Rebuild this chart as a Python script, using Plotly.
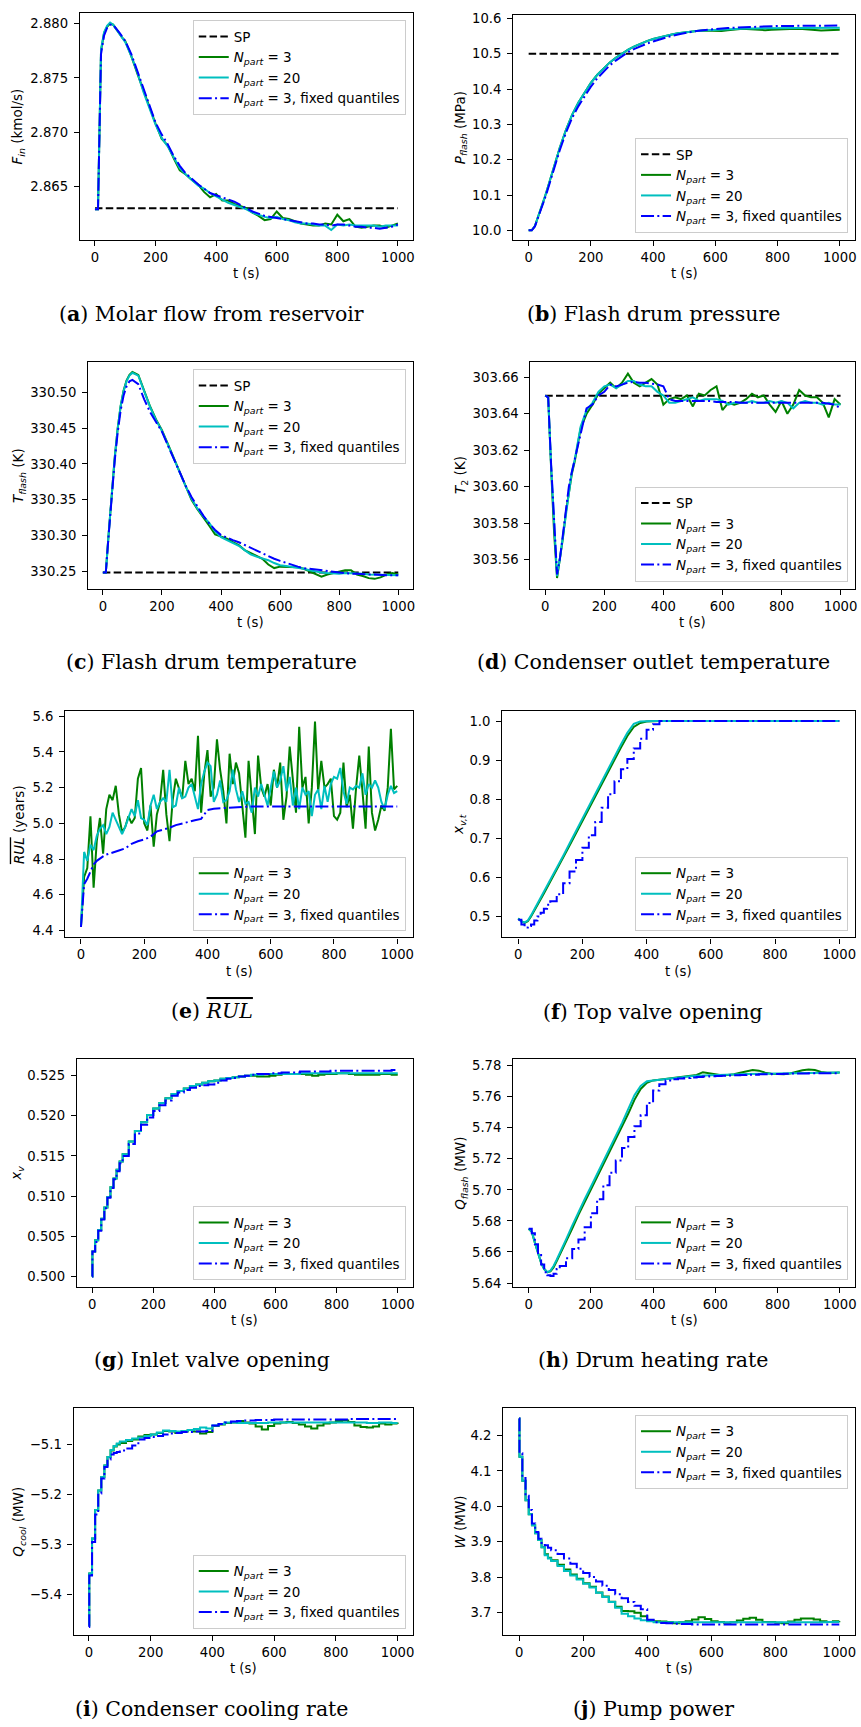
import plotly.graph_objects as go

W, H = 861, 1727

# ---------------- time grids ----------------
T = [0, 10, 20, 30, 40, 50, 60, 70, 80, 90, 100,
     120, 140, 160, 180, 200, 220, 240, 260, 280, 300,
     320, 340, 360, 380, 400, 420, 440, 460, 480, 500,
     520, 540, 560, 580, 600, 620, 640, 660, 680, 700,
     720, 740, 760, 780, 800, 820, 840, 860, 880, 900,
     920, 940, 960, 980, 1000]
TS = [0, 1, 10, 20, 30, 40, 50, 60, 70, 80, 90, 100,
      120, 140, 160, 180, 200, 220, 240, 260, 280, 300,
      320, 340, 360, 380, 400, 420, 440, 460, 480, 500,
      520, 540, 560, 580, 600, 620, 640, 660, 680, 700,
      720, 740, 760, 780, 800, 820, 840, 860, 880, 900,
      920, 940, 960, 980, 1000]
T10 = [0, 10, 20, 30, 40, 50, 60, 70, 80, 90, 100,
       110, 120, 130, 140, 150, 160, 170, 180, 190, 200,
       210, 220, 230, 240, 250, 260, 270, 280, 290, 300,
       310, 320, 330, 340, 350, 360, 370, 380, 390, 400,
       410, 420, 430, 440, 450, 460, 470, 480, 490, 500,
       510, 520, 530, 540, 550, 560, 570, 580, 590, 600,
       610, 620, 630, 640, 650, 660, 670, 680, 690, 700,
       710, 720, 730, 740, 750, 760, 770, 780, 790, 800,
       810, 820, 830, 840, 850, 860, 870, 880, 890, 900,
       910, 920, 930, 940, 950, 960, 970, 980, 990, 1000]
T_SP = [0, 1000]

# ---------------- (a) molar flow ----------------
SP_A = [2.863, 2.863]
FA_GREEN = [2.8629, 2.8629, 2.8775, 2.8791, 2.8797, 2.8800, 2.8799, 2.8795, 2.8790, 2.8787, 2.8784,
            2.8770, 2.8754, 2.8738, 2.8722, 2.8708, 2.8694, 2.8688, 2.8676, 2.8665, 2.8661,
            2.8656, 2.8652, 2.8645, 2.8640, 2.8643, 2.8637, 2.8637, 2.8634, 2.8632, 2.8630,
            2.8626, 2.8623, 2.8619, 2.8620, 2.8627, 2.8621, 2.8620, 2.8618, 2.8616, 2.8615,
            2.8614, 2.8614, 2.8616, 2.8615, 2.8624, 2.8618, 2.8620, 2.8613, 2.8612, 2.8613,
            2.8614, 2.8614, 2.8612, 2.8614, 2.8616]
FA_CYAN = [2.8629, 2.8629, 2.8776, 2.8792, 2.8798, 2.8801, 2.8799, 2.8795, 2.8791, 2.8787, 2.8783,
           2.8770, 2.8755, 2.8737, 2.8721, 2.8707, 2.8695, 2.8687, 2.8677, 2.8667, 2.8661,
           2.8656, 2.8651, 2.8648, 2.8644, 2.8641, 2.8638, 2.8635, 2.8633, 2.8631, 2.8629,
           2.8626, 2.8624, 2.8622, 2.8621, 2.8622, 2.8620, 2.8619, 2.8617, 2.8616, 2.8616,
           2.8615, 2.8614, 2.8614, 2.8610, 2.8615, 2.8614, 2.8615, 2.8614, 2.8614, 2.8614,
           2.8614, 2.8613, 2.8614, 2.8614, 2.8614]
FA_BLUE = [2.8629, 2.8629, 2.8772, 2.8789, 2.8796, 2.8799, 2.8799, 2.8796, 2.8792, 2.8788, 2.8784,
           2.8772, 2.8756, 2.8739, 2.8723, 2.8709, 2.8698, 2.8689, 2.8678, 2.8669, 2.8662,
           2.8657, 2.8652, 2.8648, 2.8644, 2.8642, 2.8640, 2.8638, 2.8636, 2.8633, 2.8630,
           2.8627, 2.8625, 2.8623, 2.8622, 2.8621, 2.8620, 2.8619, 2.8618, 2.8617, 2.8616,
           2.8616, 2.8615, 2.8615, 2.8614, 2.8615, 2.8615, 2.8614, 2.8613, 2.8613, 2.8612,
           2.8612, 2.8611, 2.8612, 2.8613, 2.8615]

# ---------------- (b) pressure ----------------
SP_B = [10.5, 10.5]
PB_GREEN = [10.000, 10.000, 10.012, 10.036, 10.062, 10.089, 10.117, 10.147, 10.177, 10.206, 10.234,
            10.285, 10.328, 10.362, 10.392, 10.418, 10.440, 10.459, 10.475, 10.489, 10.501,
            10.512, 10.521, 10.529, 10.536, 10.542, 10.547, 10.551, 10.555, 10.558, 10.561,
            10.563, 10.565, 10.566, 10.565, 10.564, 10.565, 10.567, 10.569, 10.570, 10.570,
            10.569, 10.567, 10.567, 10.568, 10.569, 10.571, 10.572, 10.571, 10.570, 10.568,
            10.566, 10.566, 10.567, 10.568, 10.568]
PB_CYAN = [10.000, 10.000, 10.012, 10.036, 10.062, 10.089, 10.117, 10.147, 10.177, 10.206, 10.234,
           10.285, 10.328, 10.362, 10.392, 10.418, 10.440, 10.459, 10.475, 10.489, 10.501,
           10.512, 10.521, 10.529, 10.536, 10.542, 10.547, 10.551, 10.555, 10.558, 10.561,
           10.563, 10.565, 10.566, 10.567, 10.568, 10.569, 10.570, 10.571, 10.571, 10.572,
           10.572, 10.572, 10.573, 10.573, 10.573, 10.573, 10.574, 10.574, 10.574, 10.574,
           10.574, 10.574, 10.574, 10.574, 10.574]
PB_BLUE = [10.000, 10.000, 10.011, 10.034, 10.059, 10.085, 10.112, 10.141, 10.170, 10.199, 10.227,
           10.277, 10.319, 10.352, 10.381, 10.407, 10.430, 10.450, 10.467, 10.481, 10.494,
           10.505, 10.514, 10.522, 10.529, 10.535, 10.541, 10.546, 10.551, 10.555, 10.559,
           10.562, 10.565, 10.567, 10.569, 10.571, 10.572, 10.573, 10.574, 10.575, 10.576,
           10.577, 10.577, 10.578, 10.578, 10.579, 10.579, 10.579, 10.579, 10.580, 10.580,
           10.580, 10.580, 10.580, 10.580, 10.580]

# ---------------- (c) flash temperature ----------------
SP_C = [330.249, 330.249]
TC_GREEN = [330.249, 330.249, 330.305, 330.360, 330.408, 330.449, 330.480, 330.502, 330.516, 330.524, 330.528,
            330.524, 330.503, 330.480, 330.462, 330.447, 330.428, 330.408, 330.388, 330.368, 330.350,
            330.337, 330.326, 330.314, 330.302, 330.299, 330.296, 330.291, 330.287, 330.280, 330.276,
            330.273, 330.268, 330.260, 330.255, 330.257, 330.257, 330.257, 330.256, 330.254, 330.250,
            330.246, 330.243, 330.246, 330.248, 330.249, 330.252, 330.252, 330.246, 330.244, 330.241,
            330.240, 330.242, 330.246, 330.248, 330.246]
TC_CYAN = [330.249, 330.249, 330.305, 330.360, 330.408, 330.449, 330.480, 330.501, 330.515, 330.523, 330.527,
           330.523, 330.502, 330.479, 330.461, 330.446, 330.427, 330.407, 330.388, 330.369, 330.352,
           330.338, 330.327, 330.318, 330.306, 330.298, 330.294, 330.290, 330.286, 330.280, 330.274,
           330.271, 330.269, 330.266, 330.262, 330.259, 330.258, 330.257, 330.256, 330.254, 330.252,
           330.250, 330.249, 330.248, 330.247, 330.247, 330.248, 330.248, 330.247, 330.247, 330.246,
           330.246, 330.246, 330.246, 330.245, 330.245]
TC_BLUE = [330.249, 330.249, 330.303, 330.357, 330.404, 330.443, 330.474, 330.495, 330.508, 330.515, 330.517,
           330.511, 330.490, 330.472, 330.458, 330.445, 330.426, 330.407, 330.388, 330.370, 330.354,
           330.340, 330.328, 330.317, 330.308, 330.301, 330.297, 330.294, 330.291, 330.287, 330.283,
           330.279, 330.275, 330.271, 330.268, 330.265, 330.262, 330.260, 330.257, 330.255, 330.254,
           330.252, 330.251, 330.250, 330.249, 330.248, 330.248, 330.247, 330.247, 330.246, 330.246,
           330.246, 330.245, 330.245, 330.245, 330.245]

# ---------------- (d) condenser outlet temperature ----------------
SP_D = [303.6498, 303.6498]
TD_GREEN = [303.650, 303.649, 303.610, 303.575, 303.550, 303.560, 303.572, 303.586, 303.598, 303.607, 303.614,
            303.632, 303.640, 303.645, 303.651, 303.654, 303.657, 303.654, 303.657, 303.662, 303.657,
            303.655, 303.657, 303.659, 303.656, 303.645, 303.648, 303.649, 303.648, 303.650, 303.644,
            303.651, 303.650, 303.653, 303.655, 303.642, 303.646, 303.645, 303.646, 303.648, 303.651,
            303.649, 303.650, 303.645, 303.641, 303.647, 303.640, 303.645, 303.653, 303.650, 303.649,
            303.649, 303.646, 303.638, 303.648, 303.645]
TD_CYAN = [303.650, 303.649, 303.611, 303.577, 303.551, 303.561, 303.573, 303.587, 303.599, 303.608, 303.615,
           303.633, 303.642, 303.646, 303.652, 303.655, 303.656, 303.654, 303.656, 303.658, 303.658,
           303.656, 303.655, 303.655, 303.652, 303.650, 303.646, 303.646, 303.647, 303.648, 303.649,
           303.647, 303.648, 303.648, 303.648, 303.647, 303.645, 303.646, 303.646, 303.646, 303.647,
           303.646, 303.646, 303.647, 303.646, 303.647, 303.646, 303.643, 303.646, 303.647, 303.646,
           303.646, 303.645, 303.646, 303.645, 303.645]
TD_BLUE = [303.650, 303.649, 303.612, 303.578, 303.552, 303.561, 303.573, 303.588, 303.600, 303.608, 303.615,
           303.630, 303.643, 303.645, 303.650, 303.652, 303.656, 303.655, 303.656, 303.657, 303.6575,
           303.657, 303.657, 303.6565, 303.656, 303.655, 303.648, 303.647, 303.647, 303.647, 303.647,
           303.647, 303.647, 303.647, 303.6465, 303.6465, 303.6465, 303.6465, 303.646, 303.646, 303.646,
           303.646, 303.646, 303.646, 303.646, 303.646, 303.646, 303.646, 303.646, 303.646, 303.646,
           303.646, 303.646, 303.6455, 303.645, 303.643]

# ---------------- (e) mean RUL ----------------
RUL_GREEN = [4.42, 4.70, 4.75, 5.04, 4.64, 4.90, 5.03, 4.83, 5.08, 5.16, 5.13,
             5.21, 5.05, 4.95, 4.98, 5.04, 5.00, 5.03, 5.25, 5.31, 5.00,
             4.96, 5.10, 4.87, 5.05, 5.12, 5.30, 5.05, 4.90, 5.13, 5.25,
             5.20, 5.14, 5.35, 5.22, 5.25, 5.18, 5.49, 5.06, 5.28, 5.41,
             5.15, 5.20, 5.47, 5.30, 5.18, 5.00, 5.39, 5.22, 5.34, 5.28,
             5.10, 4.92, 5.35, 5.14, 4.94, 5.38, 5.20, 5.15, 5.22, 5.10,
             5.30, 5.20, 5.34, 5.02, 5.15, 5.43, 5.25, 5.06, 5.54, 5.20,
             5.26, 5.00, 5.20, 5.57, 5.18, 5.35, 5.20, 5.22, 5.25, 5.04,
             5.02, 5.06, 5.34, 5.09, 5.16, 4.97, 5.20, 5.38, 5.18, 4.97,
             5.43, 5.06, 4.96, 5.02, 5.10, 5.07, 5.20, 5.53, 5.19, 5.21]
RUL_CYAN = [4.42, 4.84, 4.79, 4.88, 4.85, 4.93, 4.97, 4.99, 4.94, 4.98, 5.06,
            5.02, 4.98, 4.94, 4.98, 5.03, 5.08, 5.04, 5.13, 5.03, 5.02,
            4.99, 5.10, 5.16, 5.08, 5.12, 5.14, 5.12, 5.30, 5.09, 5.10,
            5.20, 5.14, 5.15, 5.20, 5.22, 5.15, 5.08, 5.22, 5.29, 5.34,
            5.32, 5.12, 5.16, 5.24, 5.12, 5.13, 5.18, 5.30, 5.19, 5.12,
            5.18, 5.11, 5.12, 5.06, 5.20, 5.15, 5.22, 5.16, 5.10, 5.20,
            5.29, 5.20, 5.24, 5.32, 5.18, 5.26, 5.10, 5.20, 5.08, 5.20,
            5.16, 5.18, 5.04, 5.16, 5.19, 5.08, 5.21, 5.12, 5.22, 5.26,
            5.25, 5.31, 5.18, 5.11, 5.20, 5.19, 5.21, 5.20, 5.28, 5.16,
            5.22, 5.20, 5.24, 5.20, 5.12, 5.08, 5.16, 5.21, 5.17, 5.18]
RUL_BLUE = [4.42, 4.66, 4.69, 4.73, 4.77, 4.79, 4.805, 4.815, 4.825, 4.83, 4.835,
            4.848, 4.86, 4.885, 4.90, 4.91, 4.925, 4.955, 4.965, 4.975, 4.99,
            5.00, 5.008, 5.017, 5.025, 5.075, 5.082, 5.085, 5.088, 5.09, 5.092,
            5.093, 5.094, 5.094, 5.094, 5.095, 5.095, 5.095, 5.095, 5.095, 5.095,
            5.095, 5.095, 5.095, 5.095, 5.095, 5.095, 5.095, 5.095, 5.095, 5.095,
            5.095, 5.095, 5.095, 5.095, 5.095]

# ---------------- (f) top valve opening ----------------
XVT_GREEN = [0.495, 0.488, 0.484, 0.488, 0.500, 0.514, 0.529, 0.544, 0.559, 0.574, 0.589,
             0.620, 0.651, 0.682, 0.713, 0.745, 0.776, 0.808, 0.839, 0.870, 0.901,
             0.932, 0.962, 0.985, 0.995, 0.999, 1.0, 1.0, 1.0, 1.0, 1.0,
             1.0, 1.0, 1.0, 1.0, 1.0, 1.0, 1.0, 1.0, 1.0, 1.0,
             1.0, 1.0, 1.0, 1.0, 1.0, 1.0, 1.0, 1.0, 1.0, 1.0,
             1.0, 1.0, 1.0, 1.0, 1.0]
XVT_CYAN = [0.495, 0.487, 0.485, 0.490, 0.503, 0.518, 0.533, 0.548, 0.563, 0.578, 0.593,
            0.624, 0.655, 0.687, 0.719, 0.750, 0.782, 0.814, 0.845, 0.877, 0.908,
            0.940, 0.970, 0.993, 0.999, 1.0, 1.0, 1.0, 1.0, 1.0, 1.0,
            1.0, 1.0, 1.0, 1.0, 1.0, 1.0, 1.0, 1.0, 1.0, 1.0,
            1.0, 1.0, 1.0, 1.0, 1.0, 1.0, 1.0, 1.0, 1.0, 1.0,
            1.0, 1.0, 1.0, 1.0, 1.0]
XVT_BLUE = [0.492, 0.480, 0.472, 0.476, 0.480, 0.490, 0.500, 0.510, 0.520, 0.530, 0.539,
            0.557, 0.585, 0.615, 0.645, 0.676, 0.708, 0.742, 0.778, 0.813, 0.846,
            0.877, 0.903, 0.930, 0.955, 0.978, 0.992, 1.0, 1.0, 1.0, 1.0,
            1.0, 1.0, 1.0, 1.0, 1.0, 1.0, 1.0, 1.0, 1.0, 1.0,
            1.0, 1.0, 1.0, 1.0, 1.0, 1.0, 1.0, 1.0, 1.0, 1.0,
            1.0, 1.0, 1.0, 1.0, 1.0]

# ---------------- (g) inlet valve opening (TS grid) ----------------
XV_GREEN = [0.5000, 0.5031, 0.5045, 0.5058, 0.5072, 0.5086, 0.5099, 0.5111, 0.5122, 0.5133, 0.5143, 0.5152,
            0.5168, 0.5181, 0.5192, 0.5201, 0.5209, 0.5216, 0.5222, 0.5227, 0.5231, 0.5234,
            0.5237, 0.5239, 0.5241, 0.5243, 0.5244, 0.5246, 0.5247, 0.5248, 0.5249, 0.5250,
            0.5250, 0.5249, 0.5249, 0.5250, 0.5251, 0.5252, 0.5252, 0.5252, 0.5252, 0.5251,
            0.5250, 0.5251, 0.5252, 0.5252, 0.5253, 0.5253, 0.5252, 0.5251, 0.5251, 0.5251,
            0.5251, 0.5252, 0.5252, 0.5251, 0.5251]
XV_CYAN = [0.5000, 0.5031, 0.5045, 0.5058, 0.5072, 0.5086, 0.5099, 0.5111, 0.5122, 0.5133, 0.5143, 0.5152,
           0.5168, 0.5181, 0.5192, 0.5201, 0.5209, 0.5216, 0.5222, 0.5227, 0.5231, 0.5234,
           0.5237, 0.5239, 0.5241, 0.5243, 0.5244, 0.5246, 0.5247, 0.5248, 0.5249, 0.5250,
           0.5251, 0.5251, 0.5252, 0.5252, 0.5252, 0.5252, 0.5252, 0.5252, 0.5253, 0.5253,
           0.5253, 0.5253, 0.5253, 0.5253, 0.5253, 0.5253, 0.5253, 0.5253, 0.5253, 0.5253,
           0.5253, 0.5253, 0.5253, 0.5253, 0.5253]
XV_BLUE = [0.5000, 0.5031, 0.5043, 0.5057, 0.5071, 0.5085, 0.5098, 0.5110, 0.5121, 0.5131, 0.5141, 0.5150,
           0.5165, 0.5178, 0.5189, 0.5198, 0.5206, 0.5213, 0.5219, 0.5225, 0.5229, 0.5232,
           0.5235, 0.5237, 0.5238, 0.5239, 0.5241, 0.5244, 0.5246, 0.5247, 0.5249, 0.5250,
           0.5251, 0.5252, 0.5252, 0.5253, 0.5253, 0.5254, 0.5254, 0.5254, 0.5255, 0.5255,
           0.5255, 0.5255, 0.5255, 0.5256, 0.5256, 0.5256, 0.5256, 0.5256, 0.5256, 0.5256,
           0.5256, 0.5256, 0.5256, 0.5257, 0.5257]

# ---------------- (h) drum heating rate ----------------
QF_GREEN = [5.675, 5.673, 5.666, 5.659, 5.653, 5.649, 5.647, 5.6475, 5.650, 5.654, 5.658,
            5.666, 5.675, 5.684, 5.692, 5.700, 5.708, 5.716, 5.724, 5.732, 5.740,
            5.749, 5.758, 5.765, 5.769, 5.7705, 5.771, 5.7715, 5.772, 5.7725, 5.773,
            5.7735, 5.774, 5.7758, 5.7752, 5.7742, 5.7738, 5.774, 5.7745, 5.7755, 5.7765,
            5.7772, 5.7768, 5.7755, 5.7748, 5.7745, 5.7745, 5.775, 5.776, 5.777, 5.7775,
            5.7772, 5.776, 5.7755, 5.7755, 5.7756]
QF_CYAN = [5.675, 5.673, 5.666, 5.659, 5.653, 5.649, 5.647, 5.648, 5.651, 5.655, 5.659,
           5.668, 5.677, 5.686, 5.694, 5.702, 5.710, 5.718, 5.726, 5.734, 5.743,
           5.752, 5.761, 5.767, 5.770, 5.7705, 5.771, 5.7715, 5.772, 5.7725, 5.773,
           5.7732, 5.7735, 5.7737, 5.7739, 5.7741, 5.7742, 5.7743, 5.7744, 5.7745, 5.7746,
           5.7747, 5.7748, 5.7749, 5.775, 5.775, 5.7751, 5.7752, 5.7752, 5.7753, 5.7753,
           5.7754, 5.7754, 5.7755, 5.7755, 5.7756]
QF_BLUE = [5.675, 5.672, 5.665, 5.658, 5.652, 5.647, 5.645, 5.6445, 5.646, 5.649, 5.651,
           5.656, 5.662, 5.668, 5.676, 5.685, 5.694, 5.703, 5.711, 5.719, 5.727,
           5.734, 5.741, 5.748, 5.756, 5.764, 5.768, 5.7705, 5.7712, 5.7717, 5.772,
           5.7724, 5.7727, 5.773, 5.7732, 5.7734, 5.7735, 5.7737, 5.7738, 5.774, 5.7741,
           5.7742, 5.7744, 5.7745, 5.7746, 5.7747, 5.7748, 5.7749, 5.775, 5.775, 5.7751,
           5.7751, 5.7752, 5.7752, 5.7752, 5.7753]

# ---------------- (i) condenser cooling rate (TS grid) ----------------
QC_GREEN = [-5.462, -5.358, -5.288, -5.231, -5.192, -5.165, -5.142, -5.125, -5.112, -5.104, -5.100, -5.097,
            -5.093, -5.090, -5.084, -5.081, -5.080, -5.077, -5.073, -5.074, -5.077, -5.074,
            -5.071, -5.074, -5.078, -5.075, -5.063, -5.060, -5.057, -5.056, -5.053, -5.056,
            -5.058, -5.064, -5.070, -5.063, -5.058, -5.056, -5.055, -5.057, -5.060, -5.064,
            -5.068, -5.062, -5.058, -5.056, -5.053, -5.052, -5.055, -5.062, -5.065, -5.066,
            -5.064, -5.058, -5.060, -5.058, -5.059]
QC_CYAN = [-5.462, -5.358, -5.288, -5.231, -5.192, -5.165, -5.142, -5.125, -5.111, -5.103, -5.098, -5.094,
           -5.091, -5.088, -5.086, -5.083, -5.080, -5.076, -5.072, -5.073, -5.074, -5.073,
           -5.071, -5.069, -5.066, -5.068, -5.062, -5.059, -5.056, -5.056, -5.057, -5.057,
           -5.057, -5.057, -5.057, -5.056, -5.056, -5.056, -5.056, -5.056, -5.056, -5.056,
           -5.056, -5.056, -5.056, -5.056, -5.056, -5.056, -5.056, -5.056, -5.056, -5.057,
           -5.057, -5.056, -5.056, -5.057, -5.057]
QC_BLUE = [-5.465, -5.362, -5.295, -5.240, -5.198, -5.168, -5.145, -5.130, -5.120, -5.117, -5.115, -5.112,
           -5.108, -5.102, -5.090, -5.087, -5.085, -5.083, -5.080, -5.078, -5.077, -5.075,
           -5.075, -5.074, -5.074, -5.073, -5.062, -5.059, -5.056, -5.054, -5.053, -5.052,
           -5.052, -5.051, -5.051, -5.051, -5.050, -5.050, -5.050, -5.050, -5.050, -5.050,
           -5.050, -5.050, -5.050, -5.050, -5.050, -5.050, -5.049, -5.049, -5.049, -5.049,
           -5.049, -5.049, -5.049, -5.049, -5.049]

# ---------------- (j) pump power (TS grid) ----------------
W_GREEN = [4.248, 4.140, 4.072, 4.017, 3.978, 3.947, 3.924, 3.905, 3.885, 3.865, 3.855, 3.848,
           3.835, 3.822, 3.808, 3.796, 3.783, 3.773, 3.757, 3.746, 3.731, 3.717,
           3.705, 3.704, 3.700, 3.690, 3.678, 3.676, 3.675, 3.674, 3.670, 3.673,
           3.676, 3.681, 3.687, 3.682, 3.676, 3.674, 3.672, 3.673, 3.678, 3.683,
           3.686, 3.680, 3.674, 3.674, 3.672, 3.670, 3.675, 3.680, 3.684, 3.684,
           3.681, 3.676, 3.674, 3.676, 3.677]
W_CYAN = [4.248, 4.140, 4.072, 4.017, 3.978, 3.947, 3.924, 3.905, 3.885, 3.862, 3.853, 3.846,
          3.832, 3.818, 3.805, 3.794, 3.782, 3.771, 3.756, 3.744, 3.730, 3.714,
          3.697, 3.690, 3.684, 3.679, 3.676, 3.673, 3.673, 3.673, 3.673, 3.673,
          3.673, 3.673, 3.673, 3.673, 3.673, 3.673, 3.673, 3.673, 3.673, 3.673,
          3.673, 3.673, 3.673, 3.673, 3.673, 3.673, 3.673, 3.673, 3.673, 3.673,
          3.673, 3.673, 3.674, 3.674, 3.674]
W_BLUE = [4.248, 4.150, 4.080, 4.030, 3.990, 3.952, 3.928, 3.909, 3.897, 3.890, 3.883, 3.876,
          3.866, 3.853, 3.838, 3.824, 3.812, 3.801, 3.788, 3.776, 3.764, 3.752,
          3.741, 3.730, 3.720, 3.710, 3.680, 3.673, 3.671, 3.670, 3.669, 3.668,
          3.668, 3.667, 3.667, 3.667, 3.667, 3.667, 3.667, 3.667, 3.667, 3.667,
          3.667, 3.667, 3.667, 3.667, 3.667, 3.667, 3.667, 3.667, 3.667, 3.667,
          3.667, 3.667, 3.667, 3.667, 3.667]

# ---------------- tick labels ----------------
X_TICKS = [0, 200, 400, 600, 800, 1000]
YT_A = [2.865, 2.870, 2.875, 2.880]
YT_B = [10.0, 10.1, 10.2, 10.3, 10.4, 10.5, 10.6]
YT_C = [330.25, 330.30, 330.35, 330.40, 330.45, 330.50]
YT_D = [303.56, 303.58, 303.60, 303.62, 303.64, 303.66]
YT_E = [4.4, 4.6, 4.8, 5.0, 5.2, 5.4, 5.6]
YT_F = [0.5, 0.6, 0.7, 0.8, 0.9, 1.0]
YT_G = [0.500, 0.505, 0.510, 0.515, 0.520, 0.525]
YT_H = [5.64, 5.66, 5.68, 5.70, 5.72, 5.74, 5.76, 5.78]
YT_I = [-5.4, -5.3, -5.2, -5.1]
YT_J = [3.7, 3.8, 3.9, 4.0, 4.1, 4.2]

L_SP = "SP"
L_G = "<i>N</i><sub><i>part</i></sub> = 3"
L_C = "<i>N</i><sub><i>part</i></sub> = 20"
L_B = "<i>N</i><sub><i>part</i></sub> = 3, fixed quantiles"

RUL_TXT = "<span style='text-decoration:overline'>RUL</span>"

# ---------------- panel definitions ----------------
panels = [
    dict(box=(80, 10, 414, 238), yr=(2.86007, 2.88098), yt=YT_A, fmt="{:.3f}",
         ylab="<i>F</i><sub><i>in</i></sub> (kmol/s)", ylx=19,
         cap="(<b>a</b>) Molar flow from reservoir", capxy=(212, 312),
         leg=(406.7, 17.3, "top"), sp=SP_A, g=FA_GREEN, c=FA_CYAN, b=FA_BLUE,
         shape="linear", bshape="linear", xg=T, xb=T),
    dict(box=(514.3, 11.7, 857.3, 238), yr=(9.9726, 10.611), yt=YT_B, fmt="{:.1f}",
         ylab="<i>P</i><sub><i>flash</i></sub> (MPa)", ylx=462,
         cap="(<b>b</b>) Flash drum pressure", capxy=(655, 312),
         leg=(850, 231, "bottom"), sp=SP_B, g=PB_GREEN, c=PB_CYAN, b=PB_BLUE,
         shape="linear", bshape="linear", xg=T, xb=T),
    dict(box=(88.3, 360, 414, 588), yr=(330.2264, 330.5426), yt=YT_C, fmt="{:.2f}",
         ylab="<i>T</i><sub><i>flash</i></sub> (K)", ylx=19,
         cap="(<b>c</b>) Flash drum temperature", capxy=(212, 662),
         leg=(406.7, 367.7, "top"), sp=SP_C, g=TC_GREEN, c=TC_CYAN, b=TC_BLUE,
         shape="linear", bshape="linear", xg=T, xb=T),
    dict(box=(531.7, 360, 857.3, 588), yr=(303.5442, 303.6686), yt=YT_D, fmt="{:.2f}",
         ylab="<i>T</i><sub>2</sub> (K)", ylx=462,
         cap="(<b>d</b>) Condenser outlet temperature", capxy=(655, 662),
         leg=(850, 581, "bottom"), sp=SP_D, g=TD_GREEN, c=TD_CYAN, b=TD_BLUE,
         shape="linear", bshape="linear", xg=T, xb=T),
    dict(box=(65.3, 710.7, 414, 938.3), yr=(4.361, 5.63), yt=YT_E, fmt="{:.1f}",
         ylab="<i>" + RUL_TXT + "</i> (years)", ylx=19,
         cap="(<b>e</b>) <i>" + RUL_TXT + "</i>", capxy=(212, 1012),
         leg=(406.7, 931.7, "bottom"), sp=None, g=RUL_GREEN, c=RUL_CYAN, b=RUL_BLUE,
         shape="linear", bshape="linear", xg=T10, xb=T),
    dict(box=(503.3, 710.7, 857.3, 938.3), yr=(0.4465, 1.0262), yt=YT_F, fmt="{:.1f}",
         ylab="<i>x</i><sub><i>v,t</i></sub>", ylx=460,
         cap="(<b>f</b>) Top valve opening", capxy=(655, 1013),
         leg=(850, 931.7, "bottom"), sp=None, g=XVT_GREEN, c=XVT_CYAN, b=XVT_BLUE,
         shape="linear", bshape="hv", xg=T, xb=T),
    dict(box=(77, 1060.3, 414, 1289), yr=(0.49872, 0.52707), yt=YT_G, fmt="{:.3f}",
         ylab="<i>x</i><sub><i>v</i></sub>", ylx=17,
         cap="(<b>g</b>) Inlet valve opening", capxy=(212, 1363),
         leg=(406.7, 1282.3, "bottom"), sp=None, g=XV_GREEN, c=XV_CYAN, b=XV_BLUE,
         shape="hv", bshape="hv", xg=TS, xb=TS),
    dict(box=(514.3, 1060.3, 857.3, 1289), yr=(5.6376, 5.7843), yt=YT_H, fmt="{:.2f}",
         ylab="<i>Q</i><sub><i>flash</i></sub> (MW)", ylx=462,
         cap="(<b>h</b>) Drum heating rate", capxy=(655, 1363),
         leg=(850, 1282.3, "bottom"), sp=None, g=QF_GREEN, c=QF_CYAN, b=QF_BLUE,
         shape="linear", bshape="hv", xg=T, xb=T),
    dict(box=(73.7, 1411, 414, 1638.7), yr=(-5.481, -5.0277), yt=YT_I, fmt="{:.1f}",
         ylab="<i>Q</i><sub><i>cool</i></sub> (MW)", ylx=19,
         cap="(<b>i</b>) Condenser cooling rate", capxy=(212, 1713),
         leg=(406.7, 1632.3, "bottom"), sp=None, g=QC_GREEN, c=QC_CYAN, b=QC_BLUE,
         shape="hv", bshape="hv", xg=TS, xb=TS),
    dict(box=(504.3, 1411, 857.3, 1638.7), yr=(3.637, 4.2767), yt=YT_J, fmt="{:.1f}",
         ylab="<i>W</i> (MW)", ylx=461,
         cap="(<b>j</b>) Pump power", capxy=(655, 1713),
         leg=(850, 1417.7, "top"), sp=None, g=W_GREEN, c=W_CYAN, b=W_BLUE,
         shape="hv", bshape="hv", xg=TS, xb=TS),
]

SANS = "DejaVu Sans"
SERIF = "DejaVu Serif"
TICK_SIZE = 13.2
LEG_SIZE = 13.5
YLAB_SIZE = 13.5
LW = 2.0
GREEN = "#008000"
CYAN = "#00BFBF"
BLUE = "#0000FF"

fig = go.Figure()
layout = dict(width=W, height=H, margin=dict(l=0, r=0, t=0, b=0, pad=0),
              paper_bgcolor="white", plot_bgcolor="white", showlegend=True)
annotations = []

for k, p in enumerate(panels, start=1):
    sfx = "" if k == 1 else str(k)
    xa, ya = "x" + sfx, "y" + sfx
    legname = "legend" + sfx
    x0, y0, x1, y1 = p["box"]
    assert len(p["g"]) == len(p["xg"]), (k, "g", len(p["g"]), len(p["xg"]))
    assert len(p["c"]) == len(p["xg"]), (k, "c", len(p["c"]))
    assert len(p["b"]) == len(p["xb"]), (k, "b", len(p["b"]))

    if p["sp"] is not None:
        fig.add_trace(go.Scatter(x=T_SP, y=p["sp"], mode="lines", name=L_SP,
                                 line=dict(color="black", width=LW, dash="7.5px,3.3px"),
                                 xaxis=xa, yaxis=ya, legend=legname))
    fig.add_trace(go.Scatter(x=p["xg"], y=p["g"], mode="lines", name=L_G,
                             line=dict(color=GREEN, width=LW, shape=p["shape"]),
                             xaxis=xa, yaxis=ya, legend=legname))
    fig.add_trace(go.Scatter(x=p["xg"], y=p["c"], mode="lines", name=L_C,
                             line=dict(color=CYAN, width=LW, shape=p["shape"]),
                             xaxis=xa, yaxis=ya, legend=legname))
    fig.add_trace(go.Scatter(x=p["xb"], y=p["b"], mode="lines", name=L_B,
                             line=dict(color=BLUE, width=LW, shape=p["bshape"],
                                       dash="13px,3.3px,2px,3.3px"),
                             xaxis=xa, yaxis=ya, legend=legname))

    common = dict(showgrid=False, zeroline=False, showline=True, mirror=True,
                  linecolor="black", linewidth=1.1, ticks="outside", ticklen=5,
                  tickwidth=1.1, tickcolor="black",
                  tickfont=dict(family=SANS, size=TICK_SIZE, color="black"))
    layout["xaxis" + sfx] = dict(common, domain=[x0 / W, x1 / W], range=[-50, 1050],
                                 tickvals=X_TICKS, ticktext=[str(v) for v in X_TICKS],
                                 anchor=ya, fixedrange=True)
    layout["yaxis" + sfx] = dict(common, domain=[1 - y1 / H, 1 - y0 / H],
                                 range=list(p["yr"]), tickvals=p["yt"],
                                 ticktext=[p["fmt"].format(v).replace("-", "\u2212") for v in p["yt"]],
                                 anchor=xa, fixedrange=True, ticklabelstandoff=3)

    lx, ly, lanchor = p["leg"]
    layout[legname] = dict(x=lx / W, y=1 - ly / H, xanchor="right", yanchor=lanchor,
                           xref="paper", yref="paper",
                           bgcolor="rgba(255,255,255,0.8)", bordercolor="#cccccc",
                           borderwidth=1, itemwidth=30, tracegroupgap=0,
                           font=dict(family=SANS, size=LEG_SIZE, color="black"))

    annotations.append(dict(text="t (s)", x=(x0 + x1) / 2 / W, y=1 - (y1 + 34) / H,
                            xref="paper", yref="paper", showarrow=False,
                            xanchor="center", yanchor="middle",
                            font=dict(family=SANS, size=TICK_SIZE, color="black")))
    annotations.append(dict(text=p["ylab"], x=p["ylx"] / W, y=1 - (y0 + y1) / 2 / H,
                            xref="paper", yref="paper", showarrow=False, textangle=-90,
                            xanchor="center", yanchor="middle",
                            font=dict(family=SANS, size=YLAB_SIZE, color="black")))
    cx, cy = p["capxy"]
    annotations.append(dict(text=p["cap"], x=cx / W, y=1 - cy / H,
                            xref="paper", yref="paper", showarrow=False,
                            xanchor="center", yanchor="middle",
                            font=dict(family=SERIF, size=20.5, color="black")))

layout["annotations"] = annotations
fig.update_layout(**layout)
fig.write_html("out.html", config={"displayModeBar": False},
               post_script="document.body.style.margin='0px';document.body.style.padding='0px';")
